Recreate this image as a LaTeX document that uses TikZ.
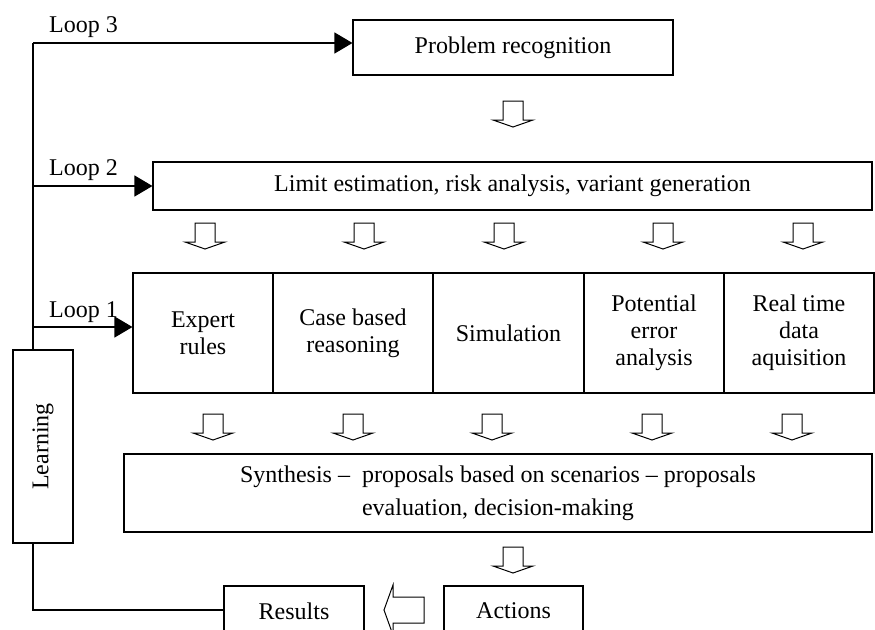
\documentclass[tikz,border=0pt]{standalone}
\usepackage{fontspec}
\setmainfont{Liberation Serif}
\usetikzlibrary{arrows.meta}
\begin{document}
\begin{tikzpicture}[x=1pt,y=-1pt,
  txt/.style={font=\fontsize{24}{27}\selectfont},
  box/.style={draw, line width=1.1pt, inner sep=0pt, align=center, txt},
  lp/.style={line width=1.1pt},
  loopar/.style={lp, -{Triangle[length=18pt,width=21pt]}},
  lbl/.style={txt, inner sep=0pt, anchor=base west},
  blk/.style={draw, line width=1pt, fill=white, line join=miter},
  downarr/.pic={\draw[blk] (-10,0) -- (10,0) -- (10,19) -- (20,19) -- (0,26) -- (-20,19) -- (-10,19) -- cycle;}
]
\useasboundingbox (0,0) rectangle (875,629);
\clip (0,0) rectangle (875,629);

% boxes
\node[box, minimum width=320pt, minimum height=55pt] (prob) at (513,47.5) {Problem recognition};
\node[box, minimum width=719pt, minimum height=48pt] (lim) at (512.5,186) {Limit estimation, risk analysis, variant generation};
\node[box, minimum width=140pt, minimum height=120pt] (exp) at (203,333) {Expert\\rules};
\node[box, minimum width=160pt, minimum height=120pt] (cbr) at (353,333) {Case based\\reasoning};
\node[box, minimum width=151pt, minimum height=120pt] (sim) at (508.5,333) {Simulation};
\node[box, minimum width=140pt, minimum height=120pt] (pea) at (654,333) {Potential\\error\\analysis};
\node[box, minimum width=150pt, minimum height=120pt] (rtd) at (799,333) {Real time\\data\\aquisition};
\node[box, minimum width=748pt, minimum height=78pt, font=\fontsize{24}{33}\selectfont] (syn) at (498,493) {Synthesis --\ \ proposals based on scenarios -- proposals\\evaluation, decision-making};
\node[box, minimum width=60pt, minimum height=193pt] (learn) at (43,446.5) {};
\node[txt, rotate=90, inner sep=0pt] (learntxt) at (learn.center) {Learning};
\node[box, minimum width=140pt, minimum height=50pt] (res) at (294,611) {Results};
\node[box, minimum width=139pt, minimum height=50pt] (act) at (513.5,611) {Actions};

% loop labels
\node[lbl] (l3) at (49,32) {Loop 3};
\node[lbl] (l2) at (49,175) {Loop 2};
\node[lbl] (l1) at (49,317) {Loop 1};

% loop connectors
\coordinate (c3) at (33,43);
\coordinate (c2) at (33,186);
\coordinate (c1) at (33,327);
\coordinate (cb) at (33,610);
\draw[lp] (c3) -- (c3 |- learn.north);
\draw[loopar] (c3) -- (c3 -| prob.west);
\draw[loopar] (c2) -- (c2 -| lim.west);
\draw[loopar] (c1) -- (c1 -| exp.west);
\draw[lp] (c3 |- learn.south) -- (cb) -- (cb -| res.west);

% block arrows
\pic at (513,101) {downarr};
\foreach \x in {205,364,504,663,803} { \pic at (\x,223) {downarr}; }
\foreach \x in {213,353,492,652,792} { \pic at (\x,414) {downarr}; }
\pic at (513,547) {downarr};
\draw[blk] (424,597) -- (393,597) -- (393,585) -- (384,610) -- (393,635) -- (393,623) -- (424,623) -- cycle;
\end{tikzpicture}
\end{document}
